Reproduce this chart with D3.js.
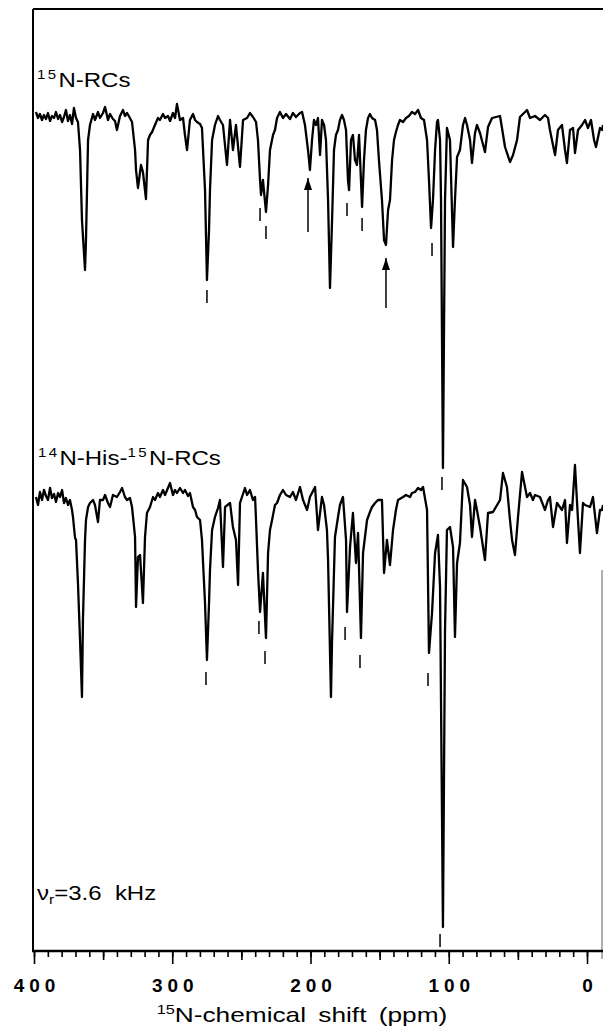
<!DOCTYPE html>
<html>
<head>
<meta charset="utf-8">
<script src="https://d3js.org/d3.v7.min.js"></script>
<style>
html, body { margin: 0; padding: 0; background: #fff; }
svg { display: block; }
text { font-family: "Liberation Sans", Arial, sans-serif; fill: #000; }
</style>
</head>
<body>
<svg id="chart" width="603" height="1029"></svg>
<script>
// 15N-RCs trace: [ppm, intensity]
const rcsTrace = [[398.6,5],[397.1,-1],[395.7,3],[394.2,-3],[392.8,2],[391.3,-2],[389.9,4],[388.4,-4],[387.0,1],[385.5,-1],[384.1,5],[382.6,-2],[381.2,2],[379.7,-5],[378.3,0],[376.9,7],[375.4,-4],[374.0,2],[372.5,-7],[371.1,9],[369.6,-1],[368.2,-5],[366.7,-33],[365.3,-103],[363.1,-153],[362.4,-123],[360.9,-23],[359.5,-8],[357.3,3],[355.9,-3],[353.7,5],[352.3,-1],[350.1,4],[348.6,10],[346.5,-3],[345.0,3],[342.9,-2],[341.4,-4],[340.0,-13],[337.8,1],[335.6,7],[334.2,1],[332.7,4],[330.6,-1],[329.1,-5],[326.9,-33],[326.2,-53],[324.8,-71],[322.6,-48],[321.2,-55],[319.0,-82],[317.5,-23],[316.1,-18],[314.6,-15],[312.5,-8],[310.3,-1],[308.9,-3],[306.7,3],[305.2,-1],[303.1,1],[301.6,-4],[299.5,4],[298.0,-1],[296.6,13],[294.4,-3],[292.2,-1],[290.8,-18],[289.3,-33],[287.2,-3],[285.0,3],[283.5,-3],[282.1,-5],[279.9,-7],[278.5,-11],[276.3,-73],[274.9,-163],[273.4,-113],[272.7,-73],[271.2,-23],[269.1,-8],[266.9,1],[265.5,-3],[263.3,-8],[260.4,-48],[258.2,-3],[256.1,-33],[253.9,-8],[251.0,-50],[248.8,-3],[245.9,-1],[243.8,4],[241.6,0],[239.4,-5],[238.0,-23],[236.5,-63],[235.8,-78],[234.4,-63],[232.2,-95],[230.7,-68],[229.3,-33],[227.1,-18],[225.7,-13],[224.2,-1],[222.1,5],[219.9,-1],[217.7,3],[214.8,-2],[212.7,4],[210.5,0],[207.6,4],[206.1,5],[204.0,-8],[201.8,-33],[200.4,-53],[198.9,-23],[197.5,-3],[196.0,-8],[194.6,-1],[193.1,-38],[191.7,-3],[190.2,-8],[188.8,-23],[187.3,-83],[185.9,-171],[184.4,-103],[183.0,-33],[181.6,-18],[180.1,-13],[178.7,-3],[177.2,2],[175.8,-3],[174.3,-13],[172.9,-63],[172.1,-73],[170.7,-23],[169.3,-18],[167.8,-43],[166.4,-48],[164.9,-18],[163.5,-63],[162.7,-90],[161.3,-43],[159.9,-13],[158.4,-1],[157.0,3],[155.5,-1],[153.3,-3],[151.9,-13],[150.5,-43],[148.3,-83],[146.8,-123],[145.4,-128],[143.9,-93],[142.5,-83],[141.0,-43],[139.6,-23],[138.2,-15],[136.7,-8],[135.3,-3],[133.1,-5],[130.9,-1],[128.8,1],[126.6,5],[124.4,3],[122.2,7],[120.1,-1],[117.9,-3],[115.7,-23],[114.3,-63],[112.8,-111],[111.4,-83],[109.9,-33],[108.5,-5],[107.8,-3],[106.3,-23],[105.6,-83],[104.2,-351],[102.7,-83],[101.3,-11],[99.1,-23],[96.9,-130],[95.5,-83],[94.0,-40],[91.9,-33],[89.7,-8],[88.2,-1],[86.8,-8],[84.6,-23],[83.2,-46],[81.0,-16],[79.6,-8],[77.4,-16],[73.8,-35],[71.6,-10],[68.7,-1],[62.9,1],[59.3,-30],[55.7,-45],[53.5,-38],[50.6,-23],[48.5,0],[44.8,5],[43.4,7],[41.2,-1],[37.6,1],[34.0,-3],[30.4,2],[28.2,-1],[26.8,-13],[24.6,-28],[23.1,-38],[21.0,-13],[18.1,-8],[15.9,-33],[14.5,-46],[12.3,-13],[10.1,-11],[8.7,-36],[6.5,-13],[3.6,-8],[1.4,-3],[-0.7,-11],[-2.9,-3],[-5.1,-23],[-6.5,-30],[-9.4,-11],[-10.9,-13],[-11.6,-8]];

// 14N-His-15N-RCs trace: [ppm, intensity]
const hisTrace = [[398.6,0],[397.1,-8],[395.7,5],[394.2,-3],[392.8,7],[391.3,1],[389.9,-3],[388.4,9],[387.0,-1],[385.5,3],[384.1,-5],[382.6,4],[381.2,0],[379.7,7],[378.3,-6],[376.9,-1],[375.4,-8],[374.0,-3],[372.5,-13],[371.8,-20],[370.3,-41],[369.6,-43],[368.2,-86],[366.7,-143],[365.3,-200],[364.6,-123],[363.1,-43],[362.4,-23],[360.9,-10],[359.5,-6],[357.3,-3],[355.9,-8],[353.7,-25],[352.3,-3],[350.1,-3],[348.6,2],[346.5,-6],[345.0,-10],[342.9,2],[340.0,0],[337.8,5],[336.3,9],[334.2,0],[332.7,-3],[330.6,-1],[329.1,-10],[326.9,-40],[326.2,-110],[324.8,-60],[323.3,-58],[321.2,-106],[319.7,-40],[318.3,-16],[316.1,-10],[313.9,0],[312.5,-3],[310.3,4],[308.9,0],[306.7,7],[305.2,2],[303.1,9],[301.6,14],[299.5,2],[298.0,7],[296.6,4],[294.4,9],[292.2,4],[290.8,7],[288.6,1],[287.2,4],[285.0,-10],[283.5,-13],[282.1,-20],[279.9,-23],[278.5,-43],[276.3,-106],[274.9,-163],[273.4,-106],[272.7,-73],[271.2,-33],[269.1,-20],[266.9,-11],[265.5,-3],[263.3,-70],[261.8,-10],[258.2,-6],[256.1,-30],[253.9,-43],[252.4,-88],[251.0,-6],[247.4,9],[245.9,2],[243.8,7],[241.6,-3],[240.1,0],[239.4,-23],[238.0,-73],[236.5,-115],[234.4,-76],[232.2,-141],[230.7,-56],[229.3,-33],[227.8,-23],[225.7,-8],[224.2,-6],[222.1,2],[219.9,7],[217.7,2],[214.8,0],[212.7,5],[210.5,-3],[207.6,10],[205.4,-3],[202.5,-13],[200.4,0],[196.7,10],[194.6,-33],[191.7,0],[190.2,-8],[188.1,-33],[187.3,-63],[185.2,-200],[184.4,-143],[182.3,-40],[180.1,-20],[178.7,-8],[176.5,0],[174.3,-43],[173.6,-115],[171.4,-50],[169.3,-16],[167.1,-66],[165.6,-36],[163.5,-141],[162.0,-56],[159.1,-23],[157.0,-15],[155.5,-10],[153.3,-6],[151.2,-3],[148.3,-3],[146.8,-76],[144.7,-43],[142.5,-68],[140.3,-33],[138.2,-13],[136.7,-3],[133.1,0],[130.9,2],[128.0,0],[126.6,4],[124.4,5],[122.2,9],[120.1,7],[118.6,10],[115.7,-13],[114.3,-156],[112.1,-116],[109.9,-56],[107.8,-38],[106.3,-90],[105.6,-203],[104.2,-430],[102.7,-133],[101.3,-33],[99.1,-30],[96.9,-50],[95.5,-140],[94.0,-66],[91.9,-46],[89.7,17],[86.8,10],[84.6,-8],[83.2,-40],[81.0,-3],[79.6,-13],[77.4,-30],[73.8,-63],[71.6,-16],[68.0,-15],[62.9,-3],[60.8,24],[57.9,10],[55.7,-23],[54.2,-43],[52.1,-58],[49.9,-20],[47.0,25],[43.4,0],[41.2,4],[39.1,-3],[37.6,2],[34.0,0],[30.4,-13],[28.2,-3],[26.8,0],[24.6,-30],[21.7,-6],[18.1,-13],[15.9,-3],[14.5,-46],[12.3,-8],[10.8,-13],[8.7,32],[6.5,-23],[5.1,-56],[2.9,-6],[1.4,-8],[-2.2,-10],[-4.3,0],[-7.2,-36],[-9.4,-13],[-10.9,-13],[-11.6,-8]];

// assignment marks: [ppm, intensity at top of mark]
const rcsMarks = [[274.9,-173],[236.5,-91],[232.2,-109],[173.6,-86],[162.7,-101],[112.1,-126],[104.9,-360]];
const hisMarks = [[275.6,-175],[237.3,-124],[232.9,-154],[175.0,-130],[164.2,-158],[115.0,-176],[106.3,-437]];
// arrows: [ppm, tail intensity, head intensity]
const rcsArrows = [[201.8,-115,-61],[145.4,-191,-141]];

const majorTicks = [400, 300, 200, 100, 0];
const midTicks = [350, 250, 150, 50];

const W = 603, H = 1029;
const frameLeft = 33, frameTop = 9, axisY = 951;
const markLen = 13;

const svg = d3.select('#chart');

const x = d3.scaleLinear().domain([400, 0]).range([34, 587]);
const yRcs = d3.scaleLinear().domain([0, -100]).range([117, 217]);
const yHis = d3.scaleLinear().domain([0, -100]).range([497, 597]);

const defs = svg.append('defs');
defs.append('marker')
    .attr('id', 'ah')
    .attr('viewBox', '0 0 12 8')
    .attr('refX', 12).attr('refY', 4)
    .attr('markerWidth', 12).attr('markerHeight', 8)
    .attr('markerUnits', 'userSpaceOnUse')
    .attr('orient', 'auto')
    .append('path').attr('d', 'M0,0L12,4L0,8Z').attr('fill', '#000');

// frame
svg.append('line').attr('x1', frameLeft).attr('x2', W).attr('y1', frameTop).attr('y2', frameTop)
    .attr('stroke', '#000').attr('stroke-width', 2);
svg.append('line').attr('x1', frameLeft).attr('x2', frameLeft).attr('y1', frameTop).attr('y2', axisY)
    .attr('stroke', '#000').attr('stroke-width', 2);
svg.append('line').attr('x1', W - 1).attr('x2', W - 1).attr('y1', 570).attr('y2', axisY + 8)
    .attr('stroke', '#777').attr('stroke-width', 1.2);

// spectra
function drawTrace(data, y){
    let line = d3.line()
        .x(function(d){ return x(d[0]) })
        .y(function(d){ return y(d[1]) });
    svg.append('path')
        .datum(data)
        .attr('d', line)
        .attr('fill', 'none')
        .attr('stroke', '#000')
        .attr('stroke-width', 2.3)
        .attr('stroke-linejoin', 'round');
}
drawTrace(rcsTrace, yRcs);
drawTrace(hisTrace, yHis);

function drawMarks(data, y){
    svg.selectAll(null)
        .data(data)
        .enter()
        .append('line')
        .attr('x1', function(d){ return x(d[0]) })
        .attr('x2', function(d){ return x(d[0]) })
        .attr('y1', function(d){ return y(d[1]) })
        .attr('y2', function(d){ return y(d[1]) + markLen })
        .attr('stroke', '#000')
        .attr('stroke-width', 1.5);
}
drawMarks(rcsMarks, yRcs);
drawMarks(hisMarks, yHis);

svg.selectAll(null)
    .data(rcsArrows)
    .enter()
    .append('line')
    .attr('x1', function(d){ return x(d[0]) })
    .attr('x2', function(d){ return x(d[0]) })
    .attr('y1', function(d){ return yRcs(d[1]) })
    .attr('y2', function(d){ return yRcs(d[2]) })
    .attr('stroke', '#000')
    .attr('stroke-width', 1.5)
    .attr('marker-end', 'url(#ah)');

// axis
const ax = svg.append('g').attr('transform', 'translate(0,' + axisY + ')');
ax.append('line').attr('x1', frameLeft - 1).attr('x2', W).attr('y1', 0).attr('y2', 0)
    .attr('stroke', '#000').attr('stroke-width', 2.5);

function tickLayer(values, size){
    let g = ax.append('g')
        .call(d3.axisBottom(x).tickValues(values).tickSize(size).tickFormat(''));
    g.select('.domain').remove();
    g.selectAll('.tick line').attr('stroke', '#000').attr('stroke-width', 1.6);
    return g;
}
tickLayer(x.ticks(40), 6);
tickLayer(midTicks, 9);
const majorG = tickLayer(majorTicks, 13);
majorG.selectAll('.tick text')
    .text(function(d){ return d })
    .attr('y', 41).attr('dy', 0).attr('dx', 2.5)
    .attr('fill', '#000')
    .style('font-family', '"Liberation Sans", Arial, sans-serif')
    .style('font-size', '19px')
    .style('font-weight', 'bold')
    .style('letter-spacing', '5px');

// labels
function supLabel(tx, ty, parts, sx){
    let t = svg.append('g').attr('transform', 'translate(' + tx + ',' + ty + ') scale(' + sx + ',1)')
        .append('text').attr('x', 0).attr('y', 0).style('font-size', '20px');
    parts.forEach(function(p){
        if (p.sup) {
            t.append('tspan').text(p.sup).attr('dy', -8).style('font-size', '12.5px').style('letter-spacing', '2px');
        } else if (p.sub) {
            t.append('tspan').text(p.sub).attr('dy', 4).style('font-size', '13px');
        } else {
            t.append('tspan').text(p.txt).attr('dy', p.dy || 0);
        }
    });
    return t;
}
supLabel(37, 87, [{sup: '15'}, {txt: 'N-RCs', dy: 8}], 1.2);
supLabel(38, 465, [{sup: '14'}, {txt: 'N-His-', dy: 8}, {sup: '15'}, {txt: 'N-RCs', dy: 8}], 1.2);
supLabel(37, 900, [{txt: 'ν'}, {sub: 'r'}, {txt: '=3.6\u00a0\u00a0kHz', dy: -4}], 1.2);

const title = svg.append('g').attr('transform', 'translate(302,1022) scale(1.25,1)')
    .append('text').attr('text-anchor', 'middle').style('font-size', '21px').style('word-spacing', '4px');
title.append('tspan').text('15').attr('dy', -8).style('font-size', '13px');
title.append('tspan').text('N-chemical shift (ppm)').attr('dy', 8);
</script>
</body>
</html>
